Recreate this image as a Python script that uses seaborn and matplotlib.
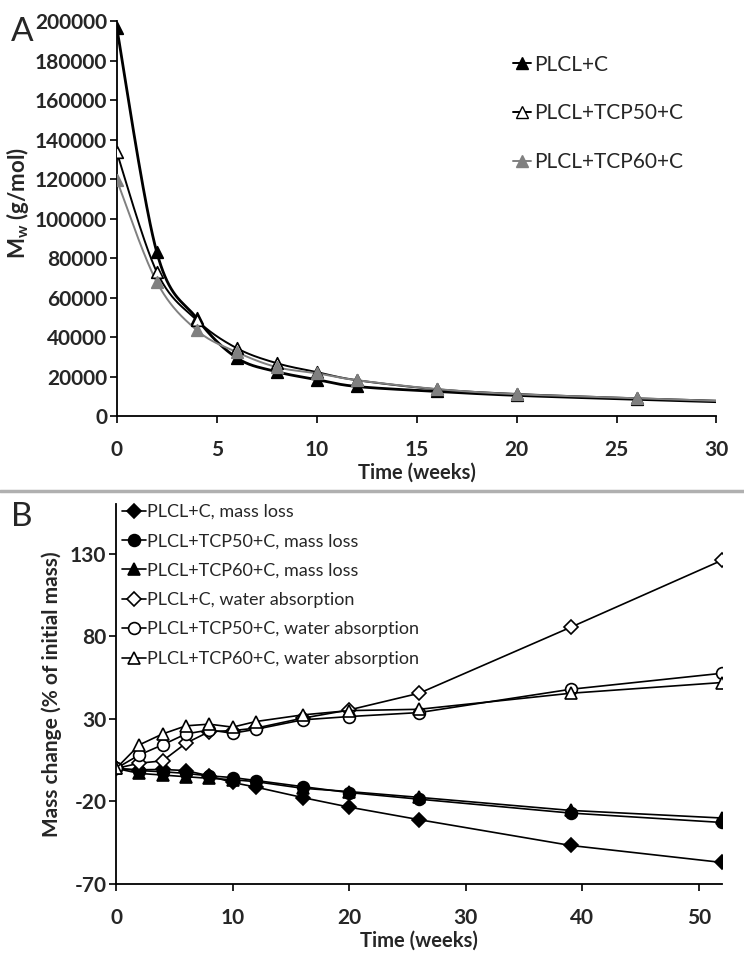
import numpy as np
import matplotlib
matplotlib.use('Agg')
import matplotlib.pyplot as plt
from matplotlib.lines import Line2D
import seaborn as sns

# Panel A: molecular weight vs time
weeks_a = [0, 2, 4, 6, 8, 10, 12, 16, 20, 26, 30]
mw_plcl = [196500, 83000, 49500, 29500, 22500, 18500, 15000, 12500, 10500, 8500, 7300]
mw_tcp50 = [133500, 73000, 48600, 34400, 26800, 22300, 18200, 13600, 11200, 9000, 7800]
mw_tcp60 = [119500, 67900, 43500, 32400, 24800, 21700, 18200, 13700, 11100, 9100, 7700]
n_marked = 10  # markers drawn up to week 26

# Panel B: mass change vs time
weeks_b = [0, 2, 4, 6, 8, 10, 12, 16, 20, 26, 39, 52]
loss_plcl = [0, -0.8, -0.6, -1.3, -4.5, -8.5, -11.3, -17.6, -23.4, -31, -46.6, -56.9]
loss_tcp50 = [0, -1.3, -2, -3, -4.5, -5.5, -7.3, -11, -14.6, -18.6, -27, -32.7]
loss_tcp60 = [0, -3, -4, -5, -6, -6.8, -8, -12, -14, -17.5, -25.4, -30]
water_plcl = [0, 3.2, 4.6, 15.3, 22.3, 22.9, 24.4, 30.4, 35.4, 45.5, 85.4, 126]
water_tcp50 = [0, 8.2, 14.3, 20.9, 23.3, 21.3, 23.7, 29.4, 31.4, 33.8, 47.9, 57.6]
water_tcp60 = [0, 14.3, 20.9, 25.8, 26.8, 25, 28.4, 32.4, 35, 35.8, 45.5, 52]


def smooth(x, y, n=40):
    # Excel-style smoothed line (cubic Bezier through the points)
    x = np.asarray(x, float)
    y = np.asarray(y, float)
    px = np.r_[x[0], x, x[-1]]
    py = np.r_[y[0], y, y[-1]]
    t = np.linspace(0, 1, n)[:, None]
    out = []
    for i in range(1, len(px) - 2):
        p0 = np.array([px[i - 1], py[i - 1]])
        p1 = np.array([px[i], py[i]])
        p2 = np.array([px[i + 1], py[i + 1]])
        p3 = np.array([px[i + 2], py[i + 2]])
        c1 = p1 + (p2 - p0) / 6
        c2 = p2 - (p3 - p1) / 6
        seg = ((1 - t) ** 3) * p1 + 3 * ((1 - t) ** 2) * t * c1 + 3 * (1 - t) * t ** 2 * c2 + t ** 3 * p2
        out.append(seg)
    out = np.vstack(out)
    return out[:, 0], out[:, 1]


sns.set_theme(style='white')
plt.rcParams['font.family'] = ['Lato', 'DejaVu Sans']
plt.rcParams['mathtext.fontset'] = 'custom'
plt.rcParams['mathtext.bf'] = 'Lato:bold'
plt.rcParams['mathtext.rm'] = 'Lato:bold'
plt.rcParams['axes.unicode_minus'] = False

fig = plt.figure(figsize=(7.44, 9.61), dpi=100)
ax1 = fig.add_axes([0.157, 0.567, 0.806, 0.411])
ax2 = fig.add_axes([0.156, 0.080, 0.8145, 0.3955])

gray = '#808080'
series_a = [
    ('PLCL+C', mw_plcl, 'black', 'black', 'black', 2.0),
    ('PLCL+TCP50+C', mw_tcp50, 'black', 'white', 'black', 1.4),
    ('PLCL+TCP60+C', mw_tcp60, gray, gray, gray, 1.4),
]
handles = []
for label, vals, lc, fc, ec, lw in series_a:
    sx, sy = smooth(weeks_a, vals)
    sns.lineplot(x=sx, y=sy, ax=ax1, color=lc, lw=lw, sort=False, estimator=None)
    sns.scatterplot(x=weeks_a[:n_marked], y=vals[:n_marked], ax=ax1, marker='^', s=70,
                    color=fc, edgecolor=ec, linewidth=1.2, zorder=3)
    handles.append(Line2D([], [], color=lc, lw=1.4, marker='^', markersize=8,
                          markerfacecolor=fc, markeredgecolor=ec))
ax1.legend(handles, [s[0] for s in series_a], loc='upper left', bbox_to_anchor=(0.66, 0.915),
           frameon=False, fontsize=15, handlelength=0.9, handletextpad=0.15,
           labelspacing=1.37, borderpad=0, borderaxespad=0)

ax1.set_xlim(0, 30)
ax1.set_ylim(0, 200000)
ax1.set_xticks(range(0, 31, 5))
ax1.set_yticks(range(0, 200001, 20000))
ax1.set_xlabel('Time (weeks)', fontsize=14.5, fontweight='bold', labelpad=2)
ax1.set_ylabel(r'M$_\mathbf{w}$ (g/mol)', fontsize=16, fontweight='bold')
ax1.yaxis.set_label_coords(-0.143, 0.54)

series_b = [
    ('PLCL+C, mass loss', loss_plcl, 'D', 'black'),
    ('PLCL+TCP50+C, mass loss', loss_tcp50, 'o', 'black'),
    ('PLCL+TCP60+C, mass loss', loss_tcp60, '^', 'black'),
    ('PLCL+C, water absorption', water_plcl, 'D', 'white'),
    ('PLCL+TCP50+C, water absorption', water_tcp50, 'o', 'white'),
    ('PLCL+TCP60+C, water absorption', water_tcp60, '^', 'white'),
]
sizes = {'D': 7, 'o': 8.5, '^': 8.5}
for label, vals, mk, fc in series_b:
    sns.lineplot(x=weeks_b, y=vals, ax=ax2, color='black', lw=1.2, marker=mk,
                 markersize=sizes[mk], markerfacecolor=fc, markeredgecolor='black',
                 markeredgewidth=1.2, label=label, estimator=None)
ax2.legend(loc='upper left', bbox_to_anchor=(0.01, 1.0), frameon=False, fontsize=13,
           handlelength=1.3, handletextpad=0.1, labelspacing=0.74, borderpad=0,
           borderaxespad=0)

ax2.set_xlim(0, 52)
ax2.set_ylim(-70, 160)
ax2.set_xticks(range(0, 51, 10))
ax2.set_yticks([-70, -20, 30, 80, 130])
ax2.set_xlabel('Time (weeks)', fontsize=14.5, fontweight='bold', labelpad=2)
ax2.set_ylabel('Mass change (% of initial mass)', fontsize=15, fontweight='bold')
ax2.yaxis.set_label_coords(-0.09, 0.5)

for ax in (ax1, ax2):
    sns.despine(ax=ax)
    for sp in ('left', 'bottom'):
        ax.spines[sp].set_color('black')
        ax.spines[sp].set_linewidth(1.3)
    ax.tick_params(direction='out', length=5, width=1.2, color='black', labelsize=15,
                   left=True, bottom=True)
    ax.tick_params(axis='x', pad=12)
    ax.tick_params(axis='y', pad=2)
    for t in ax.get_xticklabels() + ax.get_yticklabels():
        t.set_fontweight('bold')

fig.add_artist(Line2D([0, 1], [1 - 491 / 961, 1 - 491 / 961], color='#b0b0b0', lw=2.5,
                      transform=fig.transFigure))
fig.text(0.015, 0.982, 'A', fontsize=24, va='top', ha='left')
fig.text(0.015, 0.478, 'B', fontsize=24, va='top', ha='left')

fig.savefig('out.png', dpi=100)
